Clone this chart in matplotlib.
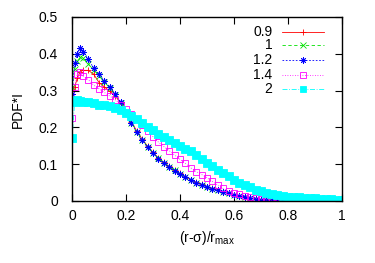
import numpy as np
import matplotlib
matplotlib.use("Agg")
import matplotlib.pyplot as plt

plt.rcParams['font.family'] = ['Liberation Sans', 'DejaVu Sans']
plt.rcParams['mathtext.fontset'] = 'custom'
plt.rcParams['mathtext.rm'] = 'Liberation Sans'
plt.rcParams['mathtext.it'] = 'Liberation Sans'

x = [0.0, 0.01, 0.02, 0.03, 0.04, 0.06, 0.08, 0.10, 0.12, 0.14, 0.16, 0.18, 0.20,
     0.22, 0.24, 0.26, 0.28, 0.30, 0.32, 0.34, 0.36, 0.38, 0.40, 0.42, 0.44, 0.46,
     0.48, 0.50, 0.52, 0.54, 0.56, 0.58, 0.60, 0.62, 0.64, 0.66, 0.68, 0.70, 0.72,
     0.74, 0.76, 0.78, 0.80, 0.82, 0.84, 0.86, 0.88, 0.90, 0.92, 0.94, 0.96, 0.98, 1.0]

y_09 = [0.29, 0.31, 0.335, 0.35, 0.355, 0.355, 0.345, 0.322, 0.31, 0.298, 0.286, 0.266, 0.242,
        0.215, 0.19, 0.168, 0.149, 0.132, 0.117, 0.105, 0.094, 0.084, 0.075, 0.066, 0.058, 0.051,
        0.045, 0.039, 0.034, 0.029, 0.025, 0.021, 0.017, 0.014, 0.011, 0.008, 0.006, 0.004, 0.003,
        0.002, 0.001, 0.001, 0.0005, 0.0, 0.0, 0.0, 0.0, 0.0, 0.0, 0.0, 0.0, 0.0, 0.0]

y_1 = [0.31, 0.36, 0.38, 0.39, 0.388, 0.373, 0.356, 0.341, 0.324, 0.308, 0.289, 0.267, 0.241,
       0.213, 0.188, 0.166, 0.147, 0.131, 0.116, 0.104, 0.093, 0.083, 0.074, 0.065, 0.057, 0.050,
       0.044, 0.038, 0.033, 0.029, 0.025, 0.021, 0.017, 0.014, 0.011, 0.008, 0.006, 0.004, 0.003,
       0.002, 0.001, 0.001, 0.0005, 0.0, 0.0, 0.0, 0.0, 0.0, 0.0, 0.0, 0.0, 0.0, 0.0]

y_12 = [0.29, 0.375, 0.40, 0.415, 0.405, 0.385, 0.362, 0.345, 0.326, 0.309, 0.29, 0.268, 0.24,
        0.212, 0.187, 0.165, 0.146, 0.13, 0.115, 0.103, 0.092, 0.082, 0.073, 0.065, 0.057, 0.050,
        0.044, 0.038, 0.033, 0.029, 0.025, 0.021, 0.017, 0.014, 0.011, 0.008, 0.006, 0.004, 0.003,
        0.002, 0.001, 0.0005, 0.0, 0.0, 0.0, 0.0, 0.0, 0.0, 0.0, 0.0, 0.0, 0.0, 0.0]

y_14 = [0.225, 0.31, 0.345, 0.35, 0.34, 0.33, 0.315, 0.305, 0.295, 0.285, 0.275, 0.262, 0.25,
        0.237, 0.222, 0.207, 0.191, 0.175, 0.16, 0.148, 0.137, 0.125, 0.113, 0.102, 0.09, 0.08,
        0.072, 0.063, 0.053, 0.043, 0.034, 0.027, 0.022, 0.018, 0.014, 0.011, 0.008, 0.005, 0.003,
        0.002, 0.001, 0.001, 0.001, 0.0, 0.0, 0.0, 0.0, 0.0, 0.0, 0.0, 0.0, 0.0, 0.0]

y_2 = [0.17, 0.27, 0.275, 0.272, 0.27, 0.268, 0.265, 0.262, 0.26, 0.257, 0.253, 0.247, 0.24,
       0.232, 0.222, 0.212, 0.202, 0.192, 0.183, 0.174, 0.165, 0.157, 0.15, 0.142, 0.135, 0.125,
       0.113, 0.103, 0.094, 0.085, 0.076, 0.067, 0.058, 0.05, 0.043, 0.037, 0.031, 0.026, 0.022,
       0.019, 0.016, 0.014, 0.012, 0.011, 0.01, 0.009, 0.008, 0.007, 0.006, 0.005, 0.005, 0.004, 0.004]

labels = ['0.9', '1', '1.2', '1.4', '2']
series = [y_09, y_1, y_12, y_14, y_2]
colors = ['#ff0000', '#00e000', '#0000ff', '#ff00ff', '#00ffff']
markers = ['+', 'x', (8, 2, 0), 's', 's']
linestyles = ['-', (0, (4, 3)), (0, (2, 2)), (0, (1, 2)), (0, (6, 2, 1, 2))]
msizes = [4.5, 4, 4.5, 4.5, 6.3]
fills = ['full', 'full', 'full', 'none', 'full']

fig = plt.figure(figsize=(3.75, 2.63), dpi=100)
ax = fig.add_axes([72/375, 1 - 201/263, 270/375, 184/263])

for ys, c, m, ls, ms, fs in zip(series, colors, markers, linestyles, msizes, fills):
    ax.plot(x, ys, color=c, marker=m, linestyle=ls, linewidth=0.6, markersize=ms,
            fillstyle=fs, markeredgewidth=0.6)

ax.set_xlim(0, 1)
ax.set_ylim(0, 0.5)
ax.set_xticks([0, 0.2, 0.4, 0.6, 0.8, 1.0])
ax.set_xticklabels(['0', '0.2', '0.4', '0.6', '0.8', '1'])
ax.set_yticks([0, 0.1, 0.2, 0.3, 0.4, 0.5])
ax.set_yticklabels(['0', '0.1', '0.2', '0.3', '0.4', '0.5'])
ax.tick_params(direction='in', length=5, width=0.8, top=True, right=True,
               labelsize=10, pad=6, colors='black')
ax.tick_params(axis='y', pad=10)
for s in ax.spines.values():
    s.set_linewidth(1.0)

ax.set_ylabel('PDF*I', fontsize=10, labelpad=10)
ax.set_xlabel('(r-σ)/r$_{\\mathrm{max}}$', fontsize=10, labelpad=4)

# legend, drawn manually (right-aligned text, sample on the right)
ly = [0.92, 0.846, 0.766, 0.686, 0.607]
for lab, c, m, ls, ms, fs, yy in zip(labels, colors, markers, linestyles, msizes, fills, ly):
    ax.text(0.743, yy, lab, transform=ax.transAxes, ha='right', va='center', fontsize=10)
    ax.plot([0.777, 0.933], [yy, yy], transform=ax.transAxes, color=c, linestyle=ls,
            linewidth=0.6, clip_on=False)
    ax.plot([0.855], [yy], transform=ax.transAxes, color=c, marker=m, markersize=min(ms, 5),
            fillstyle=fs, markeredgewidth=0.6, linestyle='none', clip_on=False)

fig.savefig('out.png', dpi=100)
